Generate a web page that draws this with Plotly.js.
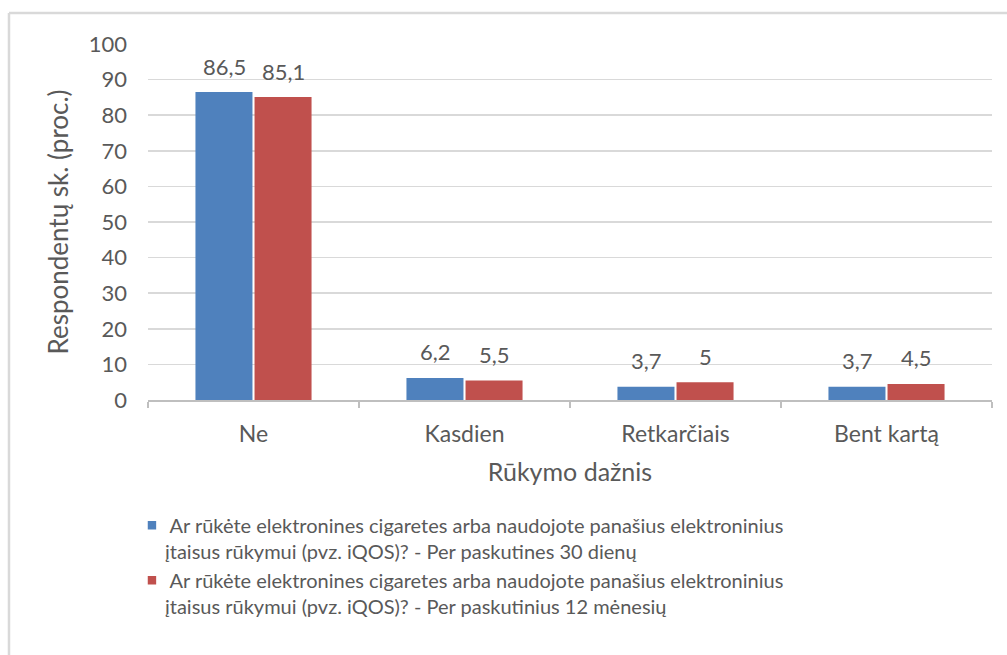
<!DOCTYPE html>
<html>
<head>
<meta charset="utf-8">
<script src="https://cdn.plot.ly/plotly-3.0.1.min.js"></script>
<style>
  html, body { margin: 0; padding: 0; background: #ffffff; }
  #chart { width: 1007px; height: 655px; }
</style>
</head>
<body>
<div id="chart"></div>
<script>
// Rūkymo dažnis categories and the two survey periods (percent of respondents)
const categories = ['Ne', 'Kasdien', 'Retkarčiais', 'Bent kartą'];
const last30Days = [86.5, 6.2, 3.7, 3.7];
const last12Months = [85.1, 5.5, 5, 4.5];
const seriesNames = [
  ' Ar rūkėte elektronines cigaretes arba naudojote panašius elektroninius<br>įtaisus rūkymui (pvz. iQOS)? - Per paskutines 30 dienų',
  ' Ar rūkėte elektronines cigaretes arba naudojote panašius elektroninius<br>įtaisus rūkymui (pvz. iQOS)? - Per paskutinius 12 mėnesių'
];
const yTicks = [0, 10, 20, 30, 40, 50, 60, 70, 80, 90, 100];

const FONT = 'Lato, "Open Sans", sans-serif';
const TEXT = '#595959';
const BLUE = '#4f81bd';
const RED = '#c0504d';

const traces = [
  {
    type: 'bar', x: categories, y: last30Days, name: seriesNames[0],
    marker: { color: BLUE }, hoverinfo: 'x+y'
  },
  {
    type: 'bar', x: categories, y: last12Months, name: seriesNames[1],
    marker: { color: RED }, hoverinfo: 'x+y'
  }
];

// value labels above each bar, written with a decimal comma
const fmt = v => String(v).replace('.', ',');
const annotations = [];
[[last30Days, -29.5], [last12Months, 29.5]].forEach(([vals, dx]) => {
  vals.forEach((v, i) => {
    annotations.push({
      x: categories[i], y: v, xref: 'x', yref: 'y',
      text: fmt(v), showarrow: false,
      xshift: dx, yshift: 26, yanchor: 'middle',
      font: { family: FONT, size: 22, color: TEXT }
    });
  });
});

const layout = {
  width: 1007, height: 655,
  margin: { l: 148, r: 15, t: 44, b: 255 },
  paper_bgcolor: '#ffffff', plot_bgcolor: '#ffffff',
  font: { family: FONT, color: TEXT },
  separators: ', ',
  barmode: 'group', bargap: 0.44, bargroupgap: 0.035,
  xaxis: {
    type: 'category',
    showline: true, linecolor: '#bfbfbf', linewidth: 1.5,
    ticks: 'outside', tickson: 'boundaries', ticklen: 6, tickcolor: '#bfbfbf', tickwidth: 1.5,
    ticklabelstandoff: 13,
    tickfont: { family: FONT, size: 23, color: TEXT },
    showgrid: false,
    title: { text: 'Rūkymo dažnis', font: { family: FONT, size: 25, color: TEXT }, standoff: 17 },
    automargin: false, fixedrange: true
  },
  yaxis: {
    range: [0, 100], tickvals: yTicks,
    showgrid: true, gridcolor: '#d9d9d9', gridwidth: 1.5,
    zeroline: false, showline: false, ticks: '',
    ticklabelstandoff: 20,
    tickfont: { family: FONT, size: 22, color: TEXT },
    title: { text: 'Respondentų sk. (proc.)', font: { family: FONT, size: 26, color: TEXT }, standoff: 12 },
    automargin: false, fixedrange: true
  },
  showlegend: true,
  legend: {
    orientation: 'v', x: -0.0273, xanchor: 'left', y: -0.297, yanchor: 'top',
    valign: 'top', traceorder: 'normal',
    font: { family: FONT, size: 20, color: TEXT },
    bgcolor: 'rgba(0,0,0,0)'
  },
  annotations: annotations,
  // frame lines along the top and left of the chart area
  shapes: [
    { type: 'line', xref: 'paper', yref: 'paper', x0: -0.1647, x1: 1.1, y0: 1.0871, y1: 1.0871,
      line: { color: '#d9d9d9', width: 2.5 } },
    { type: 'line', xref: 'paper', yref: 'paper', x0: -0.1647, x1: -0.1647, y0: 1.0871, y1: -0.8,
      line: { color: '#d9d9d9', width: 2.5 } }
  ]
};

Plotly.newPlot('chart', traces, layout, { displayModeBar: false, staticPlot: true }).then(gd => {
  // smaller square swatches in the legend, nudged right
  gd.querySelectorAll('.legend .legendpoints path').forEach(p => {
    const t = p.getAttribute('transform') || '';
    p.setAttribute('transform', t + ' translate(7,0) scale(0.7)');
  });
});
</script>
</body>
</html>
